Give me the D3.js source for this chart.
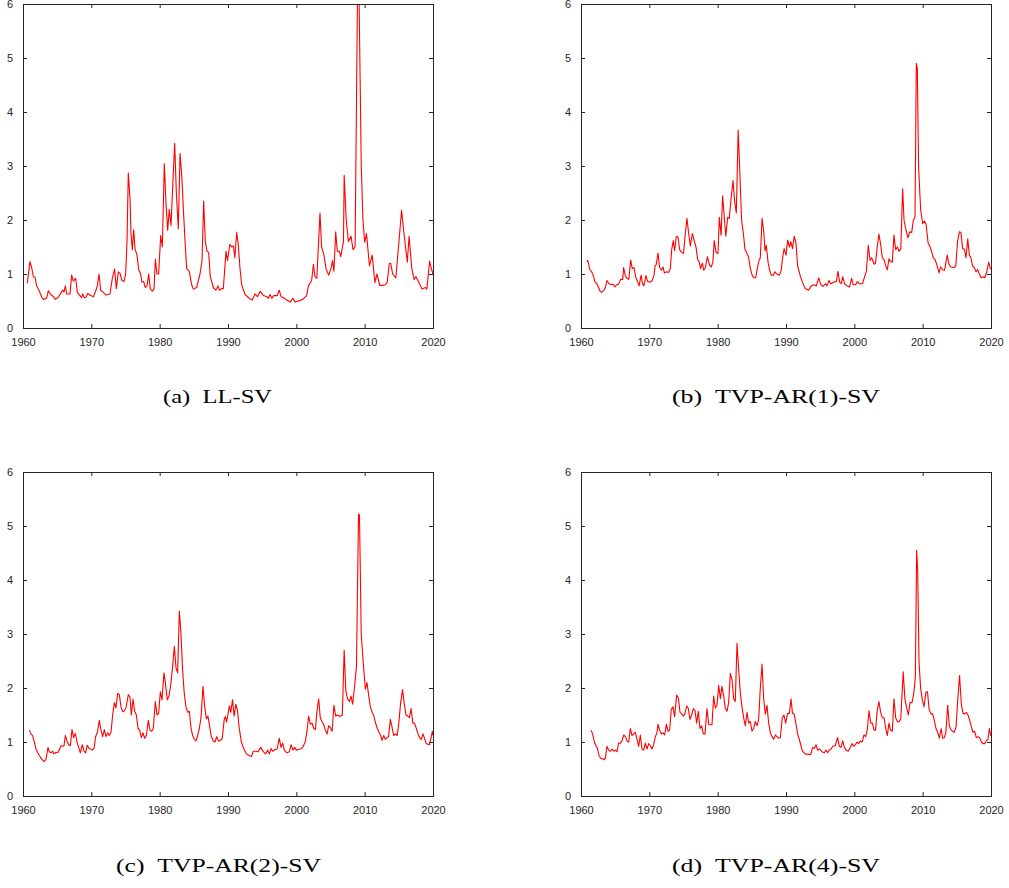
<!DOCTYPE html>
<html>
<head>
<meta charset="utf-8">
<script src="https://cdn.jsdelivr.net/npm/d3@7"></script>
<style>
  body { margin: 0; background: #fff; }
  .tick-label { font-family: "Liberation Sans", Arial, sans-serif; font-size: 11px; fill: #262626; }
  .caption { font-family: "Liberation Serif", "Times New Roman", serif; font-size: 19px; fill: #000; }
</style>
</head>
<body>
<svg id="fig" width="1009" height="888"></svg>
<script>
// [year, value] pairs
var llSV = [[1960.63,0.83],[1961.02,1.23],[1961.27,1.12],[1961.51,0.95],[1961.76,0.94],[1962.0,0.78],[1962.39,0.68],[1962.73,0.58],[1962.98,0.53],[1963.46,0.55],[1963.71,0.69],[1964.05,0.62],[1964.44,0.58],[1964.73,0.53],[1965.17,0.57],[1965.56,0.65],[1965.8,0.70],[1966.0,0.67],[1966.2,0.78],[1966.39,0.63],[1966.88,0.63],[1967.12,0.98],[1967.37,0.87],[1967.71,0.92],[1967.95,0.66],[1968.34,0.60],[1968.59,0.56],[1968.73,0.63],[1968.98,0.56],[1969.22,0.57],[1969.46,0.64],[1969.8,0.61],[1970.29,0.58],[1970.63,0.68],[1970.88,0.78],[1971.12,1.0],[1971.37,0.70],[1971.76,0.66],[1972.15,0.61],[1972.73,0.63],[1973.07,0.92],[1973.41,1.09],[1973.66,0.73],[1973.95,1.04],[1974.2,1.01],[1974.49,0.88],[1974.78,0.86],[1975.02,1.0],[1975.22,1.6],[1975.41,2.87],[1975.66,2.4],[1975.8,1.75],[1976.0,1.45],[1976.2,1.82],[1976.39,1.47],[1976.68,1.35],[1976.93,1.08],[1977.17,1.02],[1977.41,0.85],[1977.66,0.86],[1977.9,0.75],[1978.15,0.78],[1978.39,1.0],[1978.63,0.73],[1978.93,0.68],[1979.17,0.72],[1979.37,1.27],[1979.61,1.0],[1979.85,1.0],[1980.15,1.71],[1980.39,1.5],[1980.68,3.04],[1980.93,2.3],[1981.17,1.81],[1981.41,2.2],[1981.66,1.9],[1981.9,2.6],[1982.2,3.42],[1982.44,2.5],[1982.73,1.84],[1982.98,3.23],[1983.22,2.85],[1983.51,2.1],[1983.76,1.5],[1983.95,1.1],[1984.34,1.05],[1984.68,0.8],[1984.93,0.72],[1985.41,0.75],[1985.9,1.0],[1986.2,1.25],[1986.44,2.35],[1986.68,1.6],[1986.93,1.42],[1987.17,1.4],[1987.41,0.95],[1987.85,0.75],[1988.24,0.70],[1988.54,0.78],[1988.73,0.70],[1989.12,0.73],[1989.32,0.73],[1989.71,1.42],[1989.93,1.25],[1990.27,1.55],[1990.54,1.5],[1990.8,1.52],[1991.0,1.3],[1991.27,1.77],[1991.5,1.55],[1991.76,1.1],[1992.0,0.8],[1992.5,0.62],[1993.2,0.54],[1993.56,0.52],[1993.95,0.63],[1994.3,0.58],[1994.7,0.68],[1995.2,0.6],[1995.7,0.58],[1995.9,0.55],[1996.15,0.62],[1996.4,0.55],[1996.7,0.60],[1997.2,0.60],[1997.5,0.70],[1997.76,0.58],[1998.1,0.56],[1998.6,0.52],[1999.1,0.48],[1999.5,0.55],[1999.8,0.48],[2000.3,0.50],[2000.93,0.53],[2001.5,0.60],[2001.76,0.78],[2002.24,0.88],[2002.5,1.18],[2002.73,0.95],[2003.0,0.92],[2003.46,2.13],[2003.7,1.5],[2004.05,1.35],[2004.34,1.1],[2004.73,0.98],[2005.07,1.1],[2005.3,1.25],[2005.5,1.05],[2005.76,1.78],[2006.0,1.42],[2006.3,1.42],[2006.5,1.32],[2006.9,1.6],[2007.0,2.83],[2007.3,2.0],[2007.63,1.6],[2008.0,1.7],[2008.3,1.45],[2008.6,1.5],[2008.97,6.4],[2009.15,6.4],[2009.5,3.0],[2009.75,2.0],[2010.0,1.59],[2010.27,1.75],[2010.7,1.15],[2011.1,1.35],[2011.5,0.84],[2011.8,1.0],[2012.2,0.79],[2012.6,0.79],[2013.05,0.80],[2013.3,0.85],[2013.6,1.19],[2013.8,1.2],[2014.1,1.0],[2014.56,0.93],[2014.95,1.5],[2015.4,2.18],[2015.8,1.7],[2016.24,1.22],[2016.5,1.7],[2016.9,1.1],[2017.24,0.9],[2017.5,0.95],[2017.9,0.85],[2018.4,0.72],[2018.9,0.75],[2019.1,0.72],[2019.5,1.24],[2019.76,1.1],[2020.0,1.0]];

var ar1SV = [[1960.83,1.23],[1961.0,1.25],[1961.3,1.08],[1961.56,1.04],[1961.8,0.97],[1962.05,0.85],[1962.3,0.83],[1962.54,0.76],[1962.78,0.68],[1963.0,0.66],[1963.37,0.70],[1963.6,0.76],[1963.8,0.88],[1964.1,0.82],[1964.5,0.80],[1964.7,0.81],[1964.98,0.76],[1965.2,0.80],[1965.5,0.81],[1965.8,0.90],[1966.1,0.90],[1966.24,1.12],[1966.5,0.96],[1966.73,0.92],[1967.0,0.90],[1967.27,1.26],[1967.5,1.10],[1967.76,1.12],[1968.0,0.95],[1968.3,0.85],[1968.5,0.78],[1968.8,0.98],[1969.0,0.82],[1969.2,0.78],[1969.5,0.97],[1969.76,0.86],[1970.1,0.85],[1970.4,0.88],[1970.7,0.98],[1970.83,1.15],[1971.0,1.17],[1971.27,1.39],[1971.5,1.12],[1971.76,1.07],[1972.0,1.13],[1972.2,1.02],[1972.54,1.04],[1972.83,1.03],[1973.07,1.1],[1973.27,1.45],[1973.5,1.62],[1973.7,1.43],[1973.95,1.70],[1974.2,1.68],[1974.44,1.45],[1974.73,1.40],[1975.0,1.38],[1975.27,1.75],[1975.5,2.03],[1975.76,1.75],[1976.0,1.52],[1976.3,1.75],[1976.6,1.60],[1976.83,1.50],[1977.07,1.27],[1977.3,1.22],[1977.5,1.10],[1977.76,1.20],[1977.95,1.07],[1978.2,1.12],[1978.5,1.32],[1978.8,1.17],[1979.07,1.13],[1979.3,1.22],[1979.5,1.62],[1979.76,1.40],[1980.05,1.38],[1980.24,2.05],[1980.5,1.72],[1980.73,2.45],[1981.0,2.0],[1981.2,1.70],[1981.46,2.05],[1981.7,2.03],[1981.95,2.38],[1982.24,2.73],[1982.5,2.33],[1982.73,2.13],[1983.0,3.66],[1983.27,2.8],[1983.5,2.0],[1983.76,1.75],[1984.0,1.45],[1984.24,1.40],[1984.54,1.30],[1984.78,1.10],[1985.07,0.97],[1985.3,0.93],[1985.56,0.93],[1985.8,1.10],[1986.05,1.25],[1986.24,1.30],[1986.5,2.03],[1986.73,1.80],[1986.93,1.43],[1987.12,1.53],[1987.37,1.22],[1987.6,1.07],[1987.85,0.98],[1988.15,0.98],[1988.4,1.04],[1988.63,1.0],[1989.0,0.98],[1989.27,1.05],[1989.5,1.30],[1989.73,1.47],[1990.0,1.35],[1990.24,1.63],[1990.5,1.50],[1990.7,1.60],[1990.95,1.47],[1991.2,1.70],[1991.46,1.57],[1991.7,1.15],[1992.05,0.98],[1992.4,0.85],[1992.8,0.73],[1993.3,0.70],[1993.7,0.78],[1994.05,0.80],[1994.44,0.78],[1994.8,0.93],[1995.1,0.80],[1995.4,0.77],[1995.8,0.82],[1996.0,0.78],[1996.3,0.88],[1996.54,0.82],[1997.0,0.85],[1997.37,0.86],[1997.6,1.05],[1997.85,0.85],[1998.1,0.82],[1998.3,0.95],[1998.56,0.82],[1998.95,0.78],[1999.3,0.76],[1999.6,0.92],[1999.85,0.80],[2000.2,0.80],[2000.44,0.86],[2000.7,0.82],[2001.2,0.82],[2001.5,0.95],[2001.76,1.05],[2002.05,1.53],[2002.3,1.25],[2002.54,1.30],[2002.9,1.18],[2003.1,1.20],[2003.37,1.52],[2003.6,1.74],[2003.85,1.55],[2004.1,1.30],[2004.34,1.27],[2004.6,1.15],[2004.83,1.08],[2005.07,1.28],[2005.3,1.23],[2005.56,1.22],[2005.8,1.72],[2006.05,1.45],[2006.3,1.50],[2006.54,1.42],[2006.8,1.46],[2007.07,2.58],[2007.27,2.0],[2007.5,1.85],[2007.85,1.67],[2008.1,1.78],[2008.4,1.77],[2008.63,2.0],[2008.88,2.05],[2009.07,4.9],[2009.22,4.8],[2009.4,3.0],[2009.7,2.2],[2010.0,1.93],[2010.24,1.98],[2010.5,1.93],[2010.8,1.57],[2011.0,1.53],[2011.3,1.42],[2011.56,1.30],[2011.8,1.27],[2012.05,1.18],[2012.4,1.02],[2012.63,1.13],[2012.88,1.08],[2013.2,1.07],[2013.6,1.35],[2013.85,1.18],[2014.1,1.13],[2014.6,1.12],[2014.85,1.15],[2015.1,1.60],[2015.37,1.78],[2015.6,1.77],[2015.85,1.47],[2016.1,1.46],[2016.34,1.30],[2016.6,1.65],[2016.83,1.35],[2017.07,1.30],[2017.3,1.15],[2017.56,1.12],[2017.8,1.04],[2018.05,1.08],[2018.3,1.00],[2018.54,0.93],[2018.9,0.95],[2019.1,0.93],[2019.4,1.05],[2019.66,1.22],[2019.9,1.10],[2020.0,1.10]];

var ar2SV = [[1960.93,1.22],[1961.17,1.15],[1961.41,1.12],[1961.66,1.0],[1961.9,0.87],[1962.15,0.80],[1962.4,0.75],[1962.63,0.70],[1962.88,0.66],[1963.12,0.64],[1963.37,0.68],[1963.66,0.90],[1963.85,0.82],[1964.1,0.80],[1964.34,0.83],[1964.54,0.78],[1964.83,0.81],[1965.07,0.80],[1965.3,0.85],[1965.56,0.93],[1965.8,0.92],[1966.0,0.93],[1966.2,1.12],[1966.44,1.02],[1966.68,0.95],[1966.93,0.93],[1967.17,1.23],[1967.41,1.08],[1967.66,1.16],[1967.9,1.0],[1968.15,0.90],[1968.39,0.80],[1968.68,0.95],[1968.93,0.83],[1969.17,0.80],[1969.41,0.94],[1969.66,0.88],[1969.9,0.87],[1970.15,0.85],[1970.39,0.88],[1970.63,1.10],[1970.88,1.18],[1971.17,1.40],[1971.41,1.22],[1971.66,1.10],[1971.9,1.23],[1972.15,1.10],[1972.39,1.17],[1972.63,1.12],[1972.88,1.18],[1973.12,1.50],[1973.37,1.73],[1973.6,1.63],[1973.85,1.90],[1974.1,1.88],[1974.34,1.65],[1974.59,1.56],[1974.83,1.58],[1975.07,1.63],[1975.41,1.88],[1975.66,1.83],[1975.85,1.50],[1976.1,1.79],[1976.34,1.57],[1976.59,1.50],[1976.83,1.25],[1977.07,1.22],[1977.32,1.08],[1977.56,1.17],[1977.8,1.07],[1978.05,1.12],[1978.34,1.40],[1978.59,1.22],[1978.83,1.20],[1979.07,1.25],[1979.37,1.75],[1979.61,1.50],[1979.85,1.53],[1980.1,1.93],[1980.34,1.78],[1980.63,2.28],[1980.83,2.10],[1981.12,1.78],[1981.37,1.85],[1981.61,2.05],[1981.9,2.40],[1982.15,2.77],[1982.39,2.37],[1982.63,2.28],[1982.88,3.42],[1983.12,3.0],[1983.37,2.3],[1983.6,1.9],[1983.85,1.65],[1984.1,1.55],[1984.34,1.57],[1984.59,1.25],[1984.83,1.12],[1985.07,1.05],[1985.32,1.02],[1985.56,1.12],[1985.8,1.25],[1986.05,1.45],[1986.34,2.03],[1986.59,1.65],[1986.83,1.43],[1987.07,1.48],[1987.32,1.28],[1987.56,1.10],[1987.85,1.02],[1988.1,1.00],[1988.34,1.10],[1988.59,1.02],[1988.88,1.03],[1989.15,1.06],[1989.45,1.42],[1989.61,1.47],[1989.8,1.37],[1990.2,1.67],[1990.4,1.55],[1990.66,1.78],[1990.9,1.48],[1991.15,1.70],[1991.4,1.58],[1991.6,1.30],[1991.95,1.0],[1992.3,0.88],[1992.7,0.78],[1993.1,0.75],[1993.44,0.73],[1993.7,0.83],[1994.0,0.83],[1994.4,0.82],[1994.8,0.90],[1995.17,0.82],[1995.5,0.78],[1995.8,0.85],[1996.05,0.78],[1996.3,0.88],[1996.54,0.83],[1996.9,0.86],[1997.2,0.87],[1997.5,1.07],[1997.76,0.90],[1998.0,0.98],[1998.24,0.85],[1998.63,0.80],[1998.98,0.82],[1999.24,0.95],[1999.5,0.85],[1999.76,0.90],[2000.0,0.85],[2000.3,0.86],[2000.63,0.87],[2001.0,0.92],[2001.3,1.0],[2001.56,1.20],[2001.8,1.48],[2002.05,1.33],[2002.3,1.35],[2002.54,1.25],[2002.8,1.23],[2003.0,1.55],[2003.27,1.80],[2003.5,1.45],[2003.76,1.38],[2004.0,1.32],[2004.24,1.22],[2004.5,1.15],[2004.73,1.30],[2004.98,1.27],[2005.24,1.20],[2005.5,1.68],[2005.76,1.48],[2006.0,1.50],[2006.24,1.48],[2006.5,1.48],[2006.73,1.50],[2007.0,2.70],[2007.24,1.95],[2007.5,1.80],[2007.76,1.75],[2008.0,1.85],[2008.24,1.70],[2008.5,2.00],[2008.8,2.40],[2009.1,5.22],[2009.24,5.2],[2009.5,3.0],[2009.8,2.45],[2010.1,1.98],[2010.34,2.10],[2010.6,1.85],[2010.83,1.65],[2011.1,1.55],[2011.34,1.48],[2011.6,1.35],[2011.85,1.25],[2012.1,1.18],[2012.34,1.12],[2012.54,1.03],[2012.8,1.12],[2013.0,1.05],[2013.27,1.08],[2013.5,1.10],[2013.76,1.42],[2014.0,1.28],[2014.24,1.12],[2014.5,1.15],[2014.76,1.12],[2015.0,1.35],[2015.24,1.70],[2015.54,1.97],[2015.8,1.70],[2016.05,1.50],[2016.3,1.48],[2016.54,1.45],[2016.8,1.62],[2017.05,1.35],[2017.3,1.35],[2017.56,1.25],[2017.8,1.15],[2018.05,1.08],[2018.3,1.05],[2018.54,1.15],[2018.8,1.05],[2019.0,0.97],[2019.27,0.96],[2019.5,0.95],[2019.76,1.10],[2019.9,1.20],[2020.0,1.12]];

var ar4SV = [[1961.46,1.22],[1961.7,1.15],[1961.95,1.0],[1962.2,0.93],[1962.4,0.88],[1962.63,0.75],[1962.88,0.70],[1963.12,0.69],[1963.37,0.67],[1963.56,0.70],[1963.8,0.92],[1964.05,0.85],[1964.3,0.83],[1964.54,0.87],[1964.78,0.83],[1965.02,0.85],[1965.27,0.82],[1965.5,0.98],[1965.76,0.98],[1966.0,1.02],[1966.24,1.13],[1966.5,1.10],[1966.73,1.02],[1966.98,1.0],[1967.22,1.25],[1967.46,1.12],[1967.7,1.15],[1967.95,1.18],[1968.2,1.05],[1968.44,0.92],[1968.68,1.13],[1968.93,0.87],[1969.17,0.85],[1969.41,0.98],[1969.66,0.87],[1969.9,0.97],[1970.15,0.93],[1970.4,0.87],[1970.63,0.95],[1970.88,1.10],[1971.12,1.17],[1971.27,1.33],[1971.5,1.22],[1971.76,1.15],[1972.0,1.17],[1972.24,1.13],[1972.5,1.33],[1972.73,1.20],[1972.98,1.22],[1973.2,1.60],[1973.46,1.65],[1973.7,1.47],[1974.0,1.87],[1974.24,1.82],[1974.49,1.55],[1974.73,1.52],[1974.98,1.48],[1975.2,1.52],[1975.46,1.67],[1975.7,1.62],[1975.95,1.42],[1976.2,1.50],[1976.44,1.62],[1976.68,1.58],[1976.93,1.35],[1977.17,1.57],[1977.41,1.25],[1977.66,1.30],[1977.9,1.15],[1978.15,1.15],[1978.44,1.62],[1978.68,1.33],[1978.93,1.32],[1979.17,1.32],[1979.41,1.85],[1979.66,1.63],[1979.9,1.68],[1980.15,2.05],[1980.39,1.80],[1980.63,2.03],[1980.88,1.85],[1981.12,1.62],[1981.37,1.57],[1981.61,1.73],[1981.85,2.27],[1982.1,2.15],[1982.34,1.80],[1982.58,1.75],[1982.83,2.83],[1983.07,2.35],[1983.32,1.90],[1983.56,1.65],[1983.8,1.45],[1984.05,1.30],[1984.3,1.55],[1984.54,1.35],[1984.78,1.38],[1985.02,1.20],[1985.27,1.25],[1985.5,1.38],[1985.76,1.30],[1986.0,1.42],[1986.24,2.00],[1986.49,2.44],[1986.73,1.80],[1986.98,1.52],[1987.22,1.68],[1987.46,1.35],[1987.7,1.18],[1987.95,1.10],[1988.2,1.05],[1988.44,1.13],[1988.68,1.10],[1988.93,1.07],[1989.17,1.08],[1989.45,1.45],[1989.7,1.50],[1989.95,1.35],[1990.24,1.53],[1990.5,1.53],[1990.73,1.80],[1990.95,1.53],[1991.2,1.52],[1991.46,1.33],[1991.7,1.15],[1992.05,1.0],[1992.4,0.83],[1992.8,0.78],[1993.3,0.77],[1993.63,0.77],[1993.9,0.90],[1994.15,0.88],[1994.4,0.95],[1994.63,0.85],[1994.93,0.87],[1995.27,0.82],[1995.6,0.80],[1995.85,0.85],[1996.1,0.80],[1996.34,0.85],[1996.6,0.87],[1996.83,0.92],[1997.2,0.93],[1997.56,1.08],[1997.8,0.92],[1998.05,0.90],[1998.3,1.02],[1998.54,0.90],[1998.8,0.85],[1999.1,0.83],[1999.4,0.90],[1999.66,0.97],[1999.9,0.92],[2000.15,0.95],[2000.4,1.0],[2000.63,0.97],[2000.9,1.02],[2001.17,1.0],[2001.4,1.13],[2001.66,1.10],[2001.9,1.23],[2002.15,1.58],[2002.4,1.35],[2002.63,1.35],[2002.88,1.22],[2003.1,1.22],[2003.37,1.60],[2003.6,1.75],[2003.85,1.55],[2004.1,1.45],[2004.34,1.45],[2004.6,1.25],[2004.83,1.12],[2005.07,1.35],[2005.3,1.22],[2005.56,1.20],[2005.8,1.80],[2006.05,1.45],[2006.3,1.38],[2006.54,1.37],[2006.8,1.43],[2007.15,2.30],[2007.4,1.80],[2007.63,1.65],[2007.9,1.50],[2008.15,1.73],[2008.44,1.73],[2008.7,1.90],[2008.93,2.20],[2009.12,4.55],[2009.27,4.2],[2009.46,2.5],[2009.7,2.0],[2009.95,1.78],[2010.2,1.65],[2010.46,1.92],[2010.7,1.93],[2010.95,1.60],[2011.2,1.52],[2011.46,1.52],[2011.7,1.40],[2011.95,1.25],[2012.2,1.18],[2012.44,1.07],[2012.7,1.25],[2012.93,1.07],[2013.17,1.08],[2013.4,1.18],[2013.66,1.68],[2013.9,1.30],[2014.15,1.22],[2014.4,1.20],[2014.63,1.18],[2014.88,1.28],[2015.12,1.75],[2015.4,2.23],[2015.66,1.70],[2015.9,1.53],[2016.15,1.52],[2016.4,1.55],[2016.63,1.50],[2016.88,1.40],[2017.12,1.28],[2017.37,1.18],[2017.6,1.20],[2017.85,1.08],[2018.1,1.10],[2018.34,1.08],[2018.6,1.0],[2018.83,0.97],[2019.07,0.97],[2019.3,1.02],[2019.56,1.05],[2019.76,1.25],[2019.95,1.12],[2020.0,1.12]];

var yearTicks = [1960, 1970, 1980, 1990, 2000, 2010, 2020];
var valueTicks = [0, 1, 2, 3, 4, 5, 6];
var captions = ["(a)\u2002LL-SV", "(b)\u2002TVP-AR(1)-SV", "(c)\u2002TVP-AR(2)-SV", "(d)\u2002TVP-AR(4)-SV"];

var svg = d3.select("#fig");
var w = 410, h = 324, tickLen = 4, axisColor = "#262626";

var panels = [
    {data: llSV,  caption: captions[0], x: 23,  y: 4,   capX: 217.5, capY: 403, capW: 109},
    {data: ar1SV, caption: captions[1], x: 581, y: 4,   capX: 776,   capY: 403, capW: 208},
    {data: ar2SV, caption: captions[2], x: 23,  y: 472, capX: 218.5, capY: 872, capW: 205},
    {data: ar4SV, caption: captions[3], x: 581, y: 472, capX: 776,   capY: 872, capW: 208}
];

var xScale = d3.scaleLinear().domain([1960, 2020]).range([0, w]);
var yScale = d3.scaleLinear().domain([0, 6]).range([h, 0]);

svg.append("defs").append("clipPath")
    .attr("id", "plot-clip")
    .append("rect")
    .attr("width", w)
    .attr("height", h);

var line = d3.line()
    .x(function (d) { return xScale(d[0]); })
    .y(function (d) { return yScale(d[1]); });

panels.forEach(function (p) {
    var g = svg.append("g")
        .attr("transform", "translate(" + p.x + "," + p.y + ")");

    // series
    g.append("path")
        .datum(p.data)
        .attr("clip-path", "url(#plot-clip)")
        .attr("fill", "none")
        .attr("stroke", "#ff0000")
        .attr("stroke-width", 1.1)
        .attr("stroke-linejoin", "round")
        .attr("d", line);

    // box axes, ticks pointing inward on all four sides
    var bottom = g.append("g").attr("transform", "translate(0," + h + ")")
        .call(d3.axisBottom(xScale).tickValues(yearTicks).tickSize(-tickLen).tickPadding(10).tickFormat(d3.format("d")));
    var top = g.append("g")
        .call(d3.axisTop(xScale).tickValues(yearTicks).tickSize(-tickLen).tickFormat(""));
    var left = g.append("g")
        .call(d3.axisLeft(yScale).tickValues(valueTicks).tickSize(-tickLen).tickPadding(10).tickFormat(d3.format("d")));
    var right = g.append("g").attr("transform", "translate(" + w + ",0)")
        .call(d3.axisRight(yScale).tickValues(valueTicks).tickSize(-tickLen).tickFormat(""));

    [bottom, top, left, right].forEach(function (ax) {
        ax.select(".domain").attr("stroke", axisColor).attr("stroke-width", 1);
        ax.selectAll(".tick line").attr("stroke", axisColor).attr("stroke-width", 1);
        ax.selectAll(".tick text").attr("class", "tick-label").attr("fill", null);
        ax.attr("font-family", null).attr("font-size", null);
    });

    // caption below the panel
    svg.append("text")
        .attr("class", "caption")
        .attr("x", p.capX)
        .attr("y", p.capY)
        .attr("text-anchor", "middle")
        .attr("textLength", p.capW)
        .attr("lengthAdjust", "spacingAndGlyphs")
        .text(p.caption);
});
</script>
</body>
</html>
